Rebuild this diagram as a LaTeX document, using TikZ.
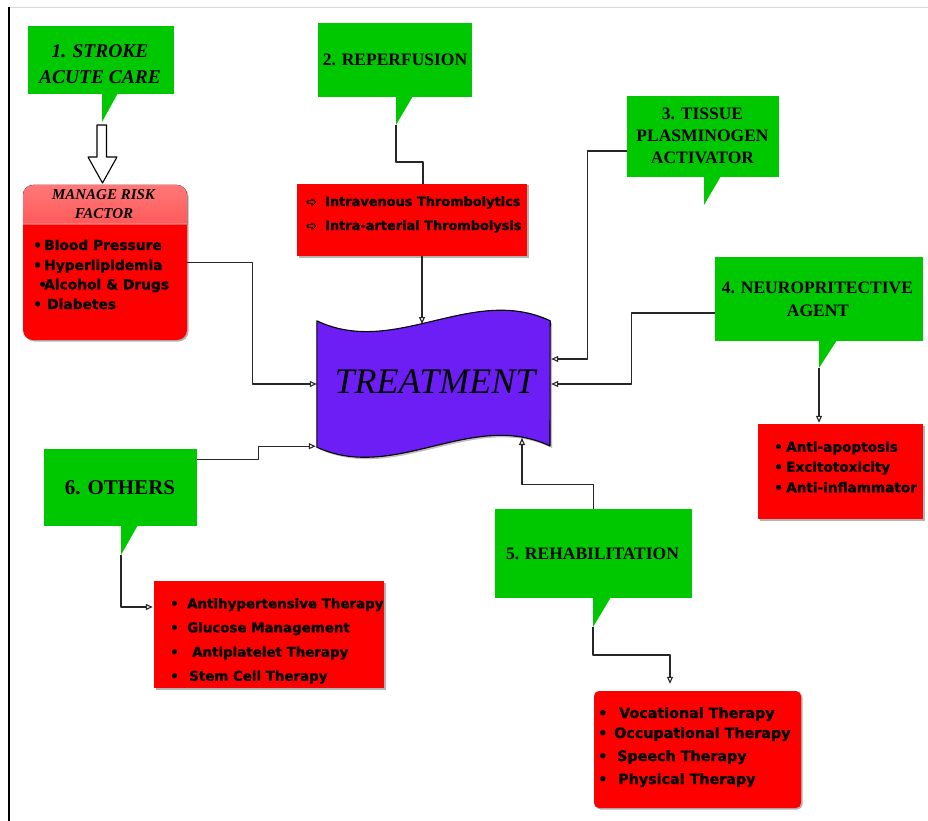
\documentclass[tikz,border=0pt]{standalone}
\usepackage{fontspec}
\setmainfont{Liberation Serif}
\newfontfamily\bodyfont[BoldFeatures={FakeBold=1.2}]{DejaVu Sans}
\usetikzlibrary{arrows.meta,shadows,calc}
\definecolor{cgreen}{RGB}{0,200,0}
\definecolor{cred}{RGB}{255,0,0}
\definecolor{cpurple}{RGB}{108,30,245}
\definecolor{cpink}{RGB}{255,120,120}
\newcommand\mybul[1]{\makebox[#1pt][l]{•}}
\newcommand\myarr[1]{\makebox[#1pt][l]{➪}}
\begin{document}
\begin{tikzpicture}[x=1pt,y=-1pt,
  callout/.style={fill=cgreen, draw=none, inner sep=0pt},
  redbox/.style={fill=cred, draw=none, inner sep=0pt,
    drop shadow={shadow xshift=1.5pt,shadow yshift=-1.5pt,opacity=0.3,fill=black}},
  head/.style={font=\fontsize{17.5}{21}\selectfont\bfseries, anchor=base, inner sep=0pt},
  ihead/.style={font=\fontsize{19.5}{23}\selectfont\bfseries\itshape, anchor=base, inner sep=0pt},
  item/.style={anchor=base west, inner sep=0pt},
  conn/.style={draw=black!85, line width=1.1pt, line join=round},
  tip/.style={-{Triangle[open,length=7pt,width=6pt]}}
]
\useasboundingbox (0,0) rectangle (928,821);
\fill[white] (0,0) rectangle (928,821);
% page frame
\draw[black!15, line width=0.8pt] (9,7) -- (928,7);
\draw[black, line width=1.6pt] (9,7) -- (9,821);

% ---------- boxes ----------
\node[callout, minimum width=146pt, minimum height=68pt] (c1) at (101,60) {};
\fill[cgreen] (102,93) -- (118,93) -- (102,122) -- cycle;
\coordinate (t1) at (102,122);

\node[redbox, rounded corners=10pt, minimum width=164pt, minimum height=155pt] (mr) at (105,262.5) {};
\begin{scope}
  \clip (23,185) rectangle (187,224);
  \fill[top color=cpink, bottom color=cred, rounded corners=10pt] (23,185) rectangle (187,340);
\end{scope}
\draw[cpink, line width=1pt] ($(mr.north west)+(0,39)$) -- ($(mr.north east)+(0,39)$);

\node[callout, minimum width=154pt, minimum height=74pt] (c2) at (395,60) {};
\fill[cgreen] (396,96) -- (413,96) -- (396,125) -- cycle;
\coordinate (t2) at (396,125);

\node[redbox, minimum width=230pt, minimum height=72pt] (r2) at (412,220) {};

\node[callout, minimum width=152pt, minimum height=81pt] (c3) at (703,136.5) {};
\fill[cgreen] (704,176) -- (721,176) -- (704,205) -- cycle;

\node[callout, minimum width=208pt, minimum height=84pt] (c4) at (819,299) {};
\fill[cgreen] (819,340) -- (837,340) -- (819,368) -- cycle;
\coordinate (t4) at (819,368);

\node[redbox, minimum width=165pt, minimum height=95pt] (r4) at (840.5,471.5) {};

\node[callout, minimum width=153pt, minimum height=77pt] (c6) at (120.5,487.5) {};
\fill[cgreen] (121,525) -- (138,525) -- (121,555) -- cycle;
\coordinate (t6) at (121,555);

\node[redbox, minimum width=230pt, minimum height=107pt] (r6) at (269,634.5) {};

\node[callout, minimum width=197pt, minimum height=89pt] (c5) at (593.5,553.5) {};
\fill[cgreen] (593,597) -- (611,597) -- (593,627) -- cycle;
\coordinate (t5) at (593,627);

\node[redbox, rounded corners=5pt, minimum width=207pt, minimum height=117pt] (r5) at (697.5,749.5) {};

% ---------- treatment ----------
\node[minimum width=233pt, minimum height=126pt, inner sep=0pt] (treat) at (433.5,384) {};
\fill[black, opacity=0.25] (319,323) .. controls (397,360) and (474,286) .. (552,323) -- (552,448)
   .. controls (474,411) and (397,485) .. (319,449) -- cycle;
\filldraw[fill=cpurple, draw=black, line width=1.1pt, line join=round]
   (treat.north west) .. controls (395,358) and (472,284) .. (treat.north east)
   -- (550,446) .. controls (472,409) and (395,483) .. (treat.south west) -- cycle;
\coordinate (treattop) at (422,324);
\coordinate (treatbot) at (522,438);
\node[font=\fontsize{36}{40}\selectfont\itshape, anchor=base, inner sep=0pt] (treattxt) at (435,393.3) {TREATMENT};

% ---------- texts ----------
\node[ihead] (c1a) at (100,57.3) {1. STROKE};
\node[ihead] (c1b) at (100,83.3) {ACUTE CARE};
\node[ihead, font=\fontsize{15}{18}\selectfont\bfseries\itshape] (mra) at (103.5,200) {MANAGE RISK};
\node[ihead, font=\fontsize{15}{18}\selectfont\bfseries\itshape] (mrb) at (104,218.3) {FACTOR};
\node[head] (c2a) at (395,65.7) {2. REPERFUSION};
\node[head] (c3a) at (702.5,120) {3. TISSUE};
\node[head] (c3b) at (702.5,141.7) {PLASMINOGEN};
\node[head] (c3c) at (702.5,164) {ACTIVATOR};
\node[head] (c4a) at (817.5,293.3) {4. NEUROPRITECTIVE};
\node[head] (c4b) at (818,316) {AGENT};
\node[head] (c5a) at (592.5,559.3) {5. REHABILITATION};
\node[head, font=\fontsize{21}{24}\selectfont\bfseries] (c6a) at (120,494) {6. OTHERS};

\begin{scope}[every node/.style={item, font=\bodyfont\bfseries\fontsize{13.8}{16}\selectfont}]
\node (mr1) at (33,250) {\mybul{11}Blood Pressure};
\node (mr2) at (33,270) {\mybul{11}Hyperlipidemia};
\node (mr3) at (38,289.3) {\mybul{6}Alcohol \& Drugs};
\node (mr4) at (33,309) {\mybul{14}Diabetes};
\end{scope}
\begin{scope}[every node/.style={item, font=\bodyfont\bfseries\fontsize{12.9}{16}\selectfont}]
\node (r2a) at (306,206) {\myarr{19}Intravenous Thrombolytics};
\node (r2b) at (306,230) {\myarr{19}Intra-arterial Thrombolysis};
\end{scope}
\begin{scope}[every node/.style={item, font=\bodyfont\bfseries\fontsize{13.6}{16}\selectfont}]
\node (r4a) at (774,451.7) {\mybul{12}Anti-apoptosis};
\node (r4b) at (774,471.7) {\mybul{12}Excitotoxicity};
\node (r4c) at (774,492.3) {\mybul{12}Anti-inflammator};
\end{scope}
\begin{scope}[every node/.style={item, font=\bodyfont\bfseries\fontsize{13.4}{16}\selectfont}]
\node (r6a) at (170,608.3) {\mybul{17}Antihypertensive Therapy};
\node (r6b) at (170,632.3) {\mybul{17}Glucose Management};
\node (r6c) at (170,656.7) {\mybul{22}Antiplatelet Therapy};
\node (r6d) at (170,680.7) {\mybul{19}Stem Cell Therapy};
\end{scope}
\begin{scope}[every node/.style={item, font=\bodyfont\bfseries\fontsize{14.3}{16}\selectfont}]
\node (r5a) at (598,718) {\mybul{21}Vocational Therapy};
\node (r5b) at (598,738) {\mybul{16}Occupational Therapy};
\node (r5c) at (598,761) {\mybul{19}Speech Therapy};
\node (r5d) at (598,784) {\mybul{20}Physical Therapy};
\end{scope}

% ---------- hollow arrow ----------
\draw[fill=white, line width=1.1pt, line join=round]
  (97,125) -- (97,157) -- (88,157) -- (102.5,183) -- (117,157) -- (106.5,157) -- (106.5,125) -- cycle;

% ---------- connectors ----------
\draw[conn,tip] (mr.east) -- ++(65,0) |- (treat.west);
\draw[conn] (t2) -- ++(0,37) -| ($(r2.north)+(11,0)$);
\draw[conn,tip] ($(r2.south)+(10,0)$) -- (treattop);
\draw[conn,tip] ($(c3.west)+(0,14.5)$) -- ++(-39,0) |- ($(treat.east)+(1,-25)$);
\draw[conn,tip] ($(c4.west)+(0,14)$) -- ++(-83,0) |- ($(treat.east)+(1,0)$);
\draw[conn,tip] (t4) -- ($(t4 |- r4.north)+(0,-1)$);
\draw[conn,tip] ($(c6.north east)+(0,11)$) -- ++(61,0) |- ($(treat.south west)+(-1,-1)$);
\draw[conn,tip] (t6) |- ($(r6.west)+(-1,-27.5)$);
\draw[conn,tip] (c5.north) -- ++(0,-24) -| (treatbot);
\draw[conn,tip] (t5) -- ++(0,28) -| ($(r5.north)+(-27.5,-7)$);
\end{tikzpicture}
\end{document}
